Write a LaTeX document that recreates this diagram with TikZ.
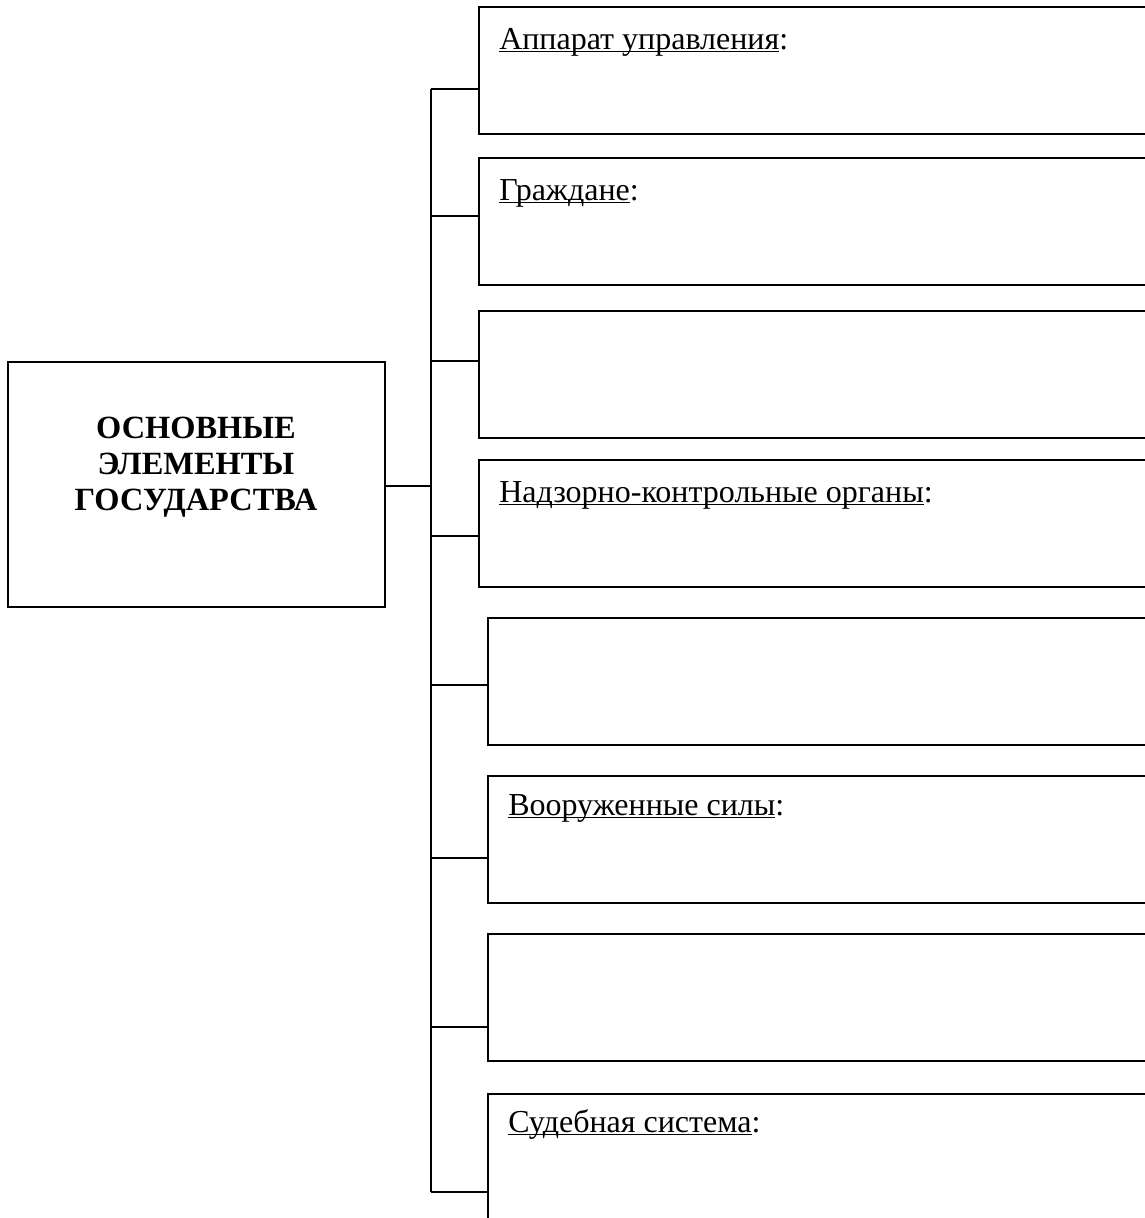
\documentclass[tikz,border=0pt]{standalone}
\usepackage{fontspec}
\setmainfont{Liberation Serif}
\newcommand{\ulword}[1]{\setbox0=\hbox{#1}\rlap{\rule[-2.6pt]{\wd0}{1.2pt}}\box0}

\begin{document}
\begin{tikzpicture}[x=0.75pt,y=-0.75pt,
    font=\fontsize{24}{26.6}\selectfont]
  \useasboundingbox (0,0) rectangle (1145,1218);
  \clip (0,0) rectangle (1145,1218);

  \node[draw,line width=1.4pt,anchor=north west,minimum width=282.75pt,
        minimum height=183.75pt,inner sep=0pt,outer sep=0pt] (0) at (8,362) {};
  \node[font=\bfseries\fontsize{24.3}{26.8}\selectfont,align=center] (title)
        at (196,467) {ОСНОВНЫЕ\\ЭЛЕМЕНТЫ\\ГОСУДАРСТВА};

  \begin{scope}[every node/.style={draw,line width=1.4pt,anchor=north west,
      minimum width=540pt,minimum height=95.25pt,inner sep=0pt,outer sep=0pt}]
    \node (1) at (479,7)    {};
    \node (2) at (479,158)  {};
    \node (3) at (479,311)  {};
    \node (4) at (479,460)  {};
    \node (5) at (488,618)  {};
    \node (6) at (488,776)  {};
    \node (7) at (488,934)  {};
    \node (8) at (488,1094) {};
  \end{scope}

  \begin{scope}[every node/.style={anchor=base west,inner sep=0pt}]
    \node (l1) at (499,49)   {\ulword{Аппарат управления}:};
    \node (l2) at (499,200)  {\ulword{Граждане}:};
    \node (l4) at (499,502)  {\ulword{Надзорно-контрольные органы}:};
    \node (l6) at (508,815)  {\ulword{Вооруженные силы}:};
    \node (l8) at (508,1132) {\ulword{Судебная система}:};
  \end{scope}

  \coordinate (t0) at (431,486);
  \coordinate (t1) at (431,89);
  \coordinate (t2) at (431,216);
  \coordinate (t3) at (431,361);
  \coordinate (t4) at (431,536);
  \coordinate (t5) at (431,685);
  \coordinate (t6) at (431,858);
  \coordinate (t7) at (431,1027);
  \coordinate (t8) at (431,1192);

  \begin{scope}[every edge/.style={draw,line width=1.2pt}]
    \path (t0) edge (t0 -| 0.east);
    \path (t1) edge (t8);
    \path (t1) edge (t1 -| 1.west);
    \path (t2) edge (t2 -| 2.west);
    \path (t3) edge (t3 -| 3.west);
    \path (t4) edge (t4 -| 4.west);
    \path (t5) edge (t5 -| 5.west);
    \path (t6) edge (t6 -| 6.west);
    \path (t7) edge (t7 -| 7.west);
    \path (t8) edge (t8 -| 8.west);
  \end{scope}

\end{tikzpicture}
\end{document}
